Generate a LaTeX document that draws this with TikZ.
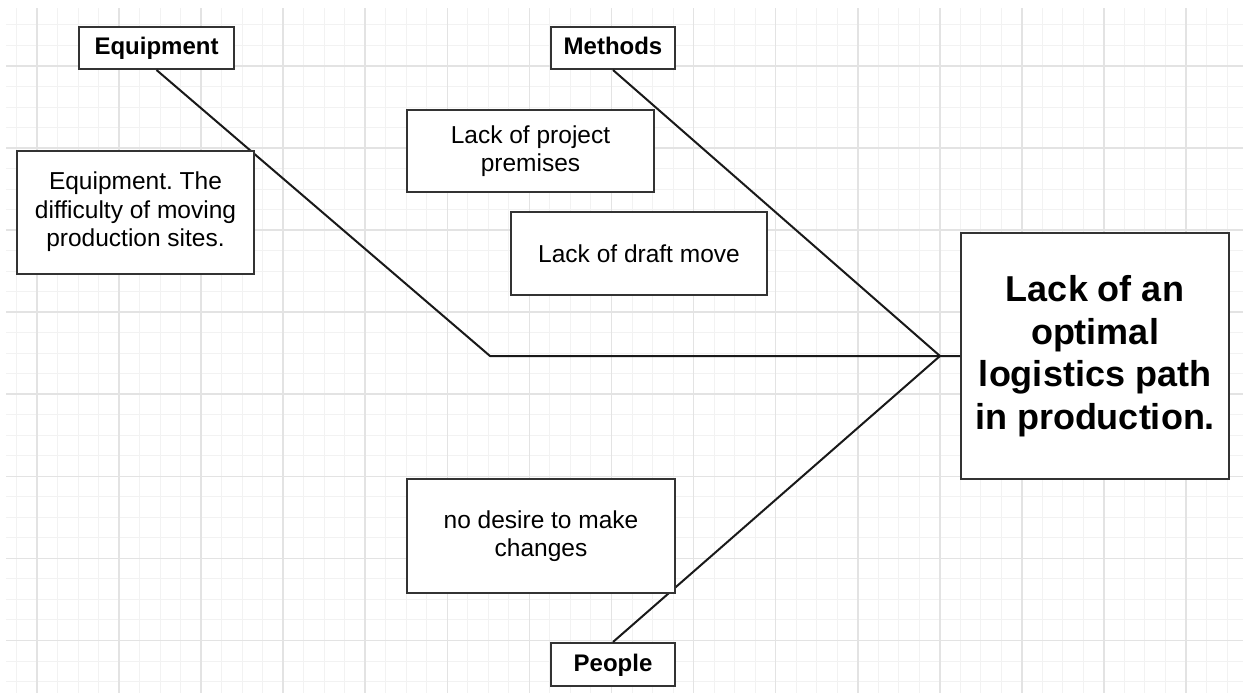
\documentclass[tikz,border=0pt]{standalone}
\usepackage{fontspec}
\setmainfont{Liberation Sans}
\frenchspacing
\begin{document}
\begin{tikzpicture}[x=1pt,y=-1pt,
  minorgrid/.style={draw=black!5,line width=1pt},
  majorgrid/.style={draw=black!11,line width=1.6pt},
  box/.style={draw=black!80,line width=2pt,fill=white,inner sep=0pt,
    align=center,font=\fontsize{24.5}{28.5}\selectfont},
  label/.style={box,font=\fontsize{24}{28}\selectfont\bfseries,
    text height=17pt,text depth=3pt},
  effect/.style={box,font=\fontsize{36}{42.5}\selectfont\bfseries},
  bone/.style={draw=black!90,line width=2pt,line join=round}]
\useasboundingbox (0,0) rectangle (1243,693);
\fill[white] (0,0) rectangle (1243,693);

% background grid: fine lines every 20.52, heavier every 82.07
\begin{scope}
  \clip (6,9) rectangle (1243,693);
  \foreach \k in {-2,...,62} {
    \draw[minorgrid] ({37+20.5175*\k},0) -- ({37+20.5175*\k},693);
  }
  \foreach \k in {-4,...,34} {
    \draw[minorgrid] (0,{66+20.5175*\k}) -- (1243,{66+20.5175*\k});
  }
  \foreach \k in {-1,...,15} {
    \draw[majorgrid] ({37+82.07*\k},0) -- ({37+82.07*\k},693);
  }
  \foreach \k in {-1,...,8} {
    \draw[majorgrid] (0,{66+82.07*\k}) -- (1243,{66+82.07*\k});
  }
\end{scope}

% junction points of the bones
\coordinate (tail) at (490,356);
\coordinate (head) at (940,356);

% category labels
\node[label,minimum width=155,minimum height=42] (equip) at (156.5,48) {Equipment};
\node[label,minimum width=124,minimum height=42] (methods) at (613,48) {Methods};
\node[label,minimum width=124,minimum height=43] (people) at (613,664.5) {People};

% effect
\node[effect,minimum width=268,minimum height=246] (effect) at (1095,356)
  {Lack of an\\optimal\\logistics path\\in production.};

% bones
\draw[bone] (equip.south) -- (tail) -- (head) -- (effect.west |- head);
\draw[bone] (methods.south) -- (head);
\draw[bone] (people.north) -- (head);

% causes
\node[box,minimum width=237,minimum height=123] (cause1) at (135.5,212)
  {Equipment. The\\difficulty of moving\\production sites.};
\node[box,minimum width=247,minimum height=82] (cause2) at (530.5,151)
  {Lack of project\\premises};
\node[box,minimum width=256,minimum height=83] (cause3) at (639,253.5)
  {Lack of draft move};
\node[box,minimum width=268,minimum height=114] (cause4) at (541,536)
  {no desire to make\\changes};
\end{tikzpicture}
\end{document}
